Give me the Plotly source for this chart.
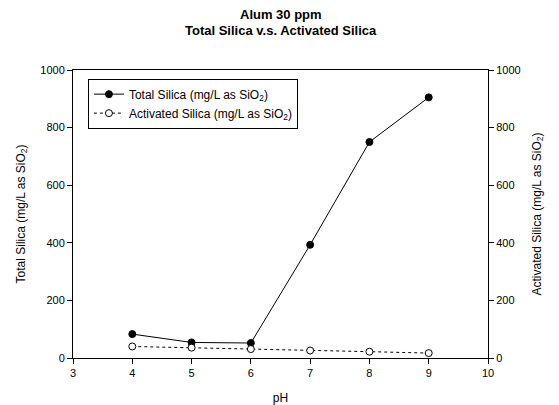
import plotly.graph_objects as go

ph = [4, 5, 6, 7, 8, 9]
total_silica = [83, 54, 52, 393, 750, 905]
activated_silica = [40, 36, 31, 26, 22, 17]

FONT = "Liberation Sans, Arial, sans-serif"

fig = go.Figure()
fig.add_trace(go.Scatter(
    x=ph, y=total_silica, mode="lines+markers",
    name="Total Silica (mg/L as SiO<sub>2</sub>)",
    line=dict(color="black", width=1),
    marker=dict(symbol="circle", size=7, color="black", line=dict(color="black", width=1)),
))
fig.add_trace(go.Scatter(
    x=ph, y=activated_silica, mode="lines+markers",
    name="Activated Silica (mg/L as SiO<sub>2</sub>)",
    line=dict(color="black", width=1, dash="dot"),
    marker=dict(symbol="circle", size=7, color="white", line=dict(color="black", width=1)),
    yaxis="y2",
))

axis_common = dict(
    showgrid=False, zeroline=False, showline=True, linecolor="black", linewidth=1,
    ticks="outside", ticklen=5, tickcolor="black", automargin=False,
    tickfont=dict(family=FONT, size=11, color="black"),
)

fig.update_layout(
    width=559, height=405,
    margin=dict(l=73, r=71, t=70, b=47),
    paper_bgcolor="white", plot_bgcolor="white",
    xaxis=dict(
        range=[3, 10], tickvals=[3, 4, 5, 6, 7, 8, 9, 10],
        title=dict(text="pH", font=dict(family=FONT, size=12, color="black"), standoff=18),
        **axis_common,
    ),
    xaxis2=dict(overlaying="x", side="top", showline=True, linecolor="black",
                showticklabels=False, ticks="", showgrid=False, zeroline=False,
                range=[3, 10], anchor="y", automargin=False),
    yaxis=dict(
        range=[0, 1000], tickvals=[0, 200, 400, 600, 800, 1000],
        title=dict(text="Total Silica (mg/L as SiO<sub>2</sub>)",
                   font=dict(family=FONT, size=12, color="black"), standoff=12),
        **axis_common,
    ),
    yaxis2=dict(
        range=[0, 1000], tickvals=[0, 200, 400, 600, 800, 1000],
        overlaying="y", side="right",
        title=dict(text="Activated Silica (mg/L as SiO<sub>2</sub>)",
                   font=dict(family=FONT, size=12, color="black"), standoff=12),
        **axis_common,
    ),
    legend=dict(
        x=0.036, y=0.97, xanchor="left", yanchor="top",
        bgcolor="white", bordercolor="black", borderwidth=1,
        font=dict(family=FONT, size=12, color="black"),
        tracegroupgap=0, itemwidth=30,
    ),
    showlegend=True,
    annotations=[
        dict(text="<b>Alum 30 ppm</b>", xref="paper", yref="paper", x=0.5, y=1,
             yshift=56, xanchor="center", yanchor="middle", showarrow=False,
             font=dict(family=FONT, size=13, color="black")),
        dict(text="<b>Total Silica v.s. Activated Silica</b>", xref="paper", yref="paper",
             x=0.5, y=1, yshift=40, xanchor="center", yanchor="middle", showarrow=False,
             font=dict(family=FONT, size=13, color="black")),
    ],
)

# invisible trace to activate top axis line
fig.add_trace(go.Scatter(x=[3], y=[0], xaxis="x2", mode="markers",
                         marker=dict(opacity=0), showlegend=False, hoverinfo="skip"))

fig.write_html("out.html")
